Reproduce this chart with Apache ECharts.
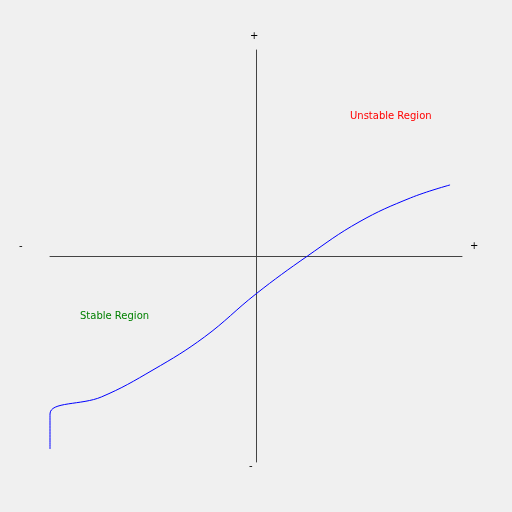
<!DOCTYPE html>
<html><head><meta charset="utf-8">
<script src="https://cdn.jsdelivr.net/npm/echarts@6/dist/echarts.min.js"></script>
<style>html,body{margin:0;background:#f0f0f0}#c{width:512px;height:512px}</style>
</head><body><div id="c"></div>
<script>
const xs = [-1, -1, -0.75, -0.5, -0.25, 0, 0.25, 0.5, 0.75, 0.942];
const ys = [-0.937, -0.767, -0.684, -0.553, -0.393, -0.184, 0.0, 0.165, 0.282, 0.345];
const chart = echarts.init(document.getElementById('c'));
const f = 'DejaVu Sans';
chart.setOption({
  backgroundColor: '#f0f0f0',
  animation: false,
  grid: {left: 50, right: 50, top: 50, bottom: 50},
  xAxis: {type: 'value', min: -1, max: 1, splitLine: {show: false}, axisTick: {show: false}, axisLabel: {show: false},
          axisLine: {onZero: true, lineStyle: {color: '#444', width: 1}}},
  yAxis: {type: 'value', min: -1, max: 1, splitLine: {show: false}, axisTick: {show: false}, axisLabel: {show: false},
          axisLine: {onZero: true, lineStyle: {color: '#444', width: 1}}},
  series: [{type: 'line', data: xs.map((x, i) => [x, ys[i]]), showSymbol: false, smooth: 0.4,
            lineStyle: {color: '#0000ff', width: 1}}],
  graphic: [
    {type: 'text', left: 250, top: 31, style: {text: '+', fontSize: 10, fontFamily: f, fill: '#000'}},
    {type: 'text', left: 249, top: 461, style: {text: '-', fontSize: 10, fontFamily: f, fill: '#000'}},
    {type: 'text', left: 19, top: 241, style: {text: '-', fontSize: 10, fontFamily: f, fill: '#000'}},
    {type: 'text', left: 470, top: 241, style: {text: '+', fontSize: 10, fontFamily: f, fill: '#000'}},
    {type: 'text', left: 350, top: 111, style: {text: 'Unstable Region', fontSize: 10, fontFamily: f, fill: '#ff0000'}},
    {type: 'text', left: 80, top: 311, style: {text: 'Stable Region', fontSize: 10, fontFamily: f, fill: '#008000'}}
  ]
});
</script></body></html>
